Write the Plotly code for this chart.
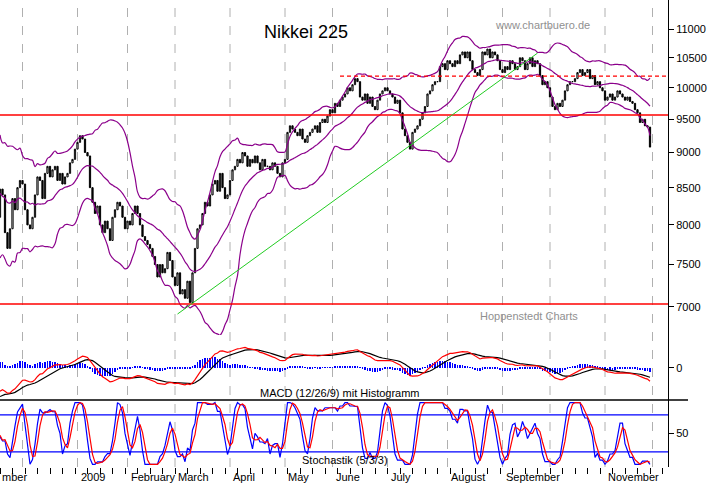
import numpy as np
import pandas as pd
import plotly.graph_objects as go

# closes before the visible window (indicator warm-up only, off-screen)
warmup_closes = [10800, 10600, 10500, 10300, 10100, 10200, 9900, 9700, 9800, 9500,
                 9300, 9600, 9000, 9200, 8400, 8900, 8100, 7800, 8600, 7600,
                 8300, 9100, 8700, 8000, 8500, 7900, 8900, 8300, 8700, 8250,
                 8600, 8100]

closes = [8480, 8400, 7900, 7700, 7950, 8350, 8200, 8500, 8600, 8550,
          8200, 8000, 7950, 8100, 8400, 8650, 8600, 8350, 8700, 8800,
          8650, 8750, 8800, 8600, 8700, 8550, 8650, 8700, 8850, 8900,
          9050, 9150, 9250, 9200, 9000, 8950, 8500, 8300, 8150, 8250,
          8000, 7900, 8050, 7950, 7800, 8100, 8200, 8300, 8250, 8100,
          7950, 8050, 8000, 8150, 8250, 8150, 8000, 7850, 7800, 7750,
          7700, 7600, 7500, 7350, 7500, 7400, 7450, 7650, 7550, 7350,
          7250, 7400, 7150, 7200, 7100, 7300, 7050, 7400, 7700, 7950,
          8000, 8150, 8300, 8250, 8400, 8550, 8600, 8450, 8700, 8500,
          8350, 8400, 8600, 8750, 8800, 8900, 8850, 9000, 8950, 8800,
          8900, 8850, 8950, 8850, 8750, 8900, 8800, 8800, 8750, 8850,
          8800, 8700, 8650, 8850, 8900, 9300, 9400, 9350, 9300, 9250,
          9350, 9200, 9150, 9250, 9300, 9350, 9400, 9300, 9450, 9500,
          9450, 9550, 9650, 9600, 9750, 9700, 9800, 9850, 9900, 10000,
          9950, 10050, 10150, 10100, 9850, 9800, 9900, 9750, 9850, 9700,
          9650, 9800, 9900, 9950, 10000, 9950, 9900, 9850, 9750, 9800,
          9600, 9350, 9250, 9150, 9050, 9300, 9350, 9400, 9500, 9600,
          9700, 9900, 9950, 10050, 10100, 10100, 10350, 10400, 10300, 10450,
          10400, 10350, 10450, 10400, 10550, 10600, 10500, 10600, 10450, 10300,
          10250, 10200, 10300, 10600, 10550, 10650, 10500, 10600, 10550, 10450,
          10300, 10250, 10350, 10300, 10450, 10400, 10300, 10350, 10500, 10450,
          10300, 10400, 10500, 10350, 10450, 10400, 10200, 10050, 10100, 10000,
          9850, 9700, 9650, 9750, 9700, 9800, 9950, 10050, 10100, 10100,
          10150, 10250, 10300, 10200, 10250, 10300, 10150, 10200, 10050, 10100,
          10000, 9950, 9800, 9850, 9900, 9800, 9850, 9950, 9900, 9850,
          9800, 9850, 9780, 9750, 9650, 9600, 9450, 9500, 9400, 9380, 9080]

month_pos = [9, 31, 51, 70, 92, 114, 133, 155, 179, 201, 220, 242, 261]
month_labels = ["", "2009", "February", "March", "April", "May",
                "June", "July", "August", "September", "", "November", ""]

support_levels = [9565, 7034]
resistance_level = 10190
trend_points = [(71, 6920), (215, 10580)]
price_ticks = [7000, 7500, 8000, 8500, 9000, 9500, 10000, 10500, 11000]

# ---- build series ----
allc = pd.Series(warmup_closes + closes, dtype=float)
n0 = len(warmup_closes)
idx = np.arange(len(allc)) - n0
opens = allc.shift(1).fillna(allc.iloc[0])
hi = np.maximum(opens, allc); lo = np.minimum(opens, allc)

mid = allc.rolling(20).mean(); sd = allc.rolling(20).std(ddof=0)
up = mid + 2 * sd; dn = mid - 2 * sd
ema12 = allc.ewm(span=12, adjust=False).mean(); ema26 = allc.ewm(span=26, adjust=False).mean()
macd = ema12 - ema26; sig = macd.ewm(span=9, adjust=False).mean(); hist = macd - sig
kraw = 100 * (allc - lo.rolling(5).min()) / (hi.rolling(5).max() - lo.rolling(5).min())
k = kraw.rolling(3).mean(); d = k.rolling(3).mean()

vis = idx >= 0
x = idx[vis]

fig = go.Figure()
fig.add_trace(go.Candlestick(x=x, open=opens[vis], high=hi[vis], low=lo[vis], close=allc[vis],
    increasing=dict(line=dict(color="black", width=1), fillcolor="white"),
    decreasing=dict(line=dict(color="black", width=1), fillcolor="black"),
    whiskerwidth=0, xaxis="x", yaxis="y", showlegend=False))
for s in (up, mid, dn):
    fig.add_trace(go.Scatter(x=x, y=s[vis], mode="lines", line=dict(color="#8b008b", width=1.2, shape="spline"),
                             xaxis="x", yaxis="y", showlegend=False))
for lvl in support_levels:
    fig.add_trace(go.Scatter(x=[-10, 275], y=[lvl, lvl], mode="lines", line=dict(color="red", width=1.5),
                             xaxis="x", yaxis="y", showlegend=False))
fig.add_trace(go.Scatter(x=[136, 275], y=[resistance_level] * 2, mode="lines",
                         line=dict(color="red", width=1.2, dash="4px,3px"), xaxis="x", yaxis="y", showlegend=False))
fig.add_trace(go.Scatter(x=[p[0] for p in trend_points], y=[p[1] for p in trend_points], mode="lines",
                         line=dict(color="#22cc22", width=1), xaxis="x", yaxis="y", showlegend=False))

fig.add_trace(go.Bar(x=x, y=hist[vis], marker=dict(color="blue", line=dict(width=0)), width=0.35,
                     xaxis="x", yaxis="y2", showlegend=False))
fig.add_trace(go.Scatter(x=x, y=sig[vis], mode="lines", line=dict(color="black", width=1.2), xaxis="x", yaxis="y2", showlegend=False))
fig.add_trace(go.Scatter(x=x, y=macd[vis], mode="lines", line=dict(color="red", width=1.2), xaxis="x", yaxis="y2", showlegend=False))

for lvl in (20, 80):
    fig.add_trace(go.Scatter(x=[-10, 275], y=[lvl, lvl], mode="lines", line=dict(color="blue", width=1.3),
                             xaxis="x", yaxis="y3", showlegend=False))
fig.add_trace(go.Scatter(x=x, y=k[vis], mode="lines", line=dict(color="blue", width=1.2), xaxis="x", yaxis="y3", showlegend=False))
fig.add_trace(go.Scatter(x=x, y=d[vis], mode="lines", line=dict(color="red", width=1.2), xaxis="x", yaxis="y3", showlegend=False))

H = 467.0
dom_main = [(467 - 335) / H, 1]
dom_macd = [(467 - 400) / H, (467 - 335) / H]
dom_st = [0, (467 - 400) / H]
xr = [0, 267.2]

shapes = []
for mp in month_pos:
    if 0 < mp < xr[1]:
        shapes.append(dict(type="line", xref="x", yref="paper", x0=mp, x1=mp, y0=0, y1=1,
                           line=dict(color="#b0b0b0", width=1, dash="dash"), layer="below"))
shapes.append(dict(type="line", xref="paper", yref="paper", x0=0, x1=1.03, y0=dom_st[1], y1=dom_st[1],
                   line=dict(color="black", width=1.5)))

F = "Liberation Sans, Arial"
ann = [dict(x=0.5 * (263 + 348) / 668, y=1 - 20 / H, xref="paper", yref="paper", text="Nikkei 225",
            showarrow=False, font=dict(family=F, size=18, color="black")),
       dict(x=592 / 668, y=1 - 17 / H, xref="paper", yref="paper", text="www.chartbuero.de",
            showarrow=False, font=dict(family=F, size=11, color="#909090")),
       dict(x=580 / 668, y=1 - 324 / H, xref="paper", yref="paper", text="Hoppenstedt Charts",
            showarrow=False, font=dict(family=F, size=11, color="#909090")),
       dict(x=340 / 668, y=1 - 394 / H, yshift=-7, xref="paper", yref="paper", text="MACD (12/26/9) mit Histogramm",
            showarrow=False, font=dict(family=F, size=11, color="black")),
       dict(x=345 / 668, y=1 - 461 / H, yshift=-7, xref="paper", yref="paper", text="Stochastik (5/3/3)",
            showarrow=False, font=dict(family=F, size=11, color="black")),
       dict(x=0, y=0, xref="paper", yref="paper", yshift=-10, text="mber", xanchor="left",
            yanchor="middle", showarrow=False, font=dict(family=F, size=11, color="black"))]
for mp, ml in zip(month_pos, month_labels):
    if ml:
        ann.append(dict(x=mp + 0.4, y=0, xref="x", yref="paper", yshift=-10, text=ml, xanchor="left",
                        yanchor="middle", showarrow=False, font=dict(family=F, size=11, color="black")))

ax_common = dict(side="right", showline=True, linecolor="black", linewidth=1, ticks="outside",
                 ticklen=5, tickcolor="black", showgrid=False, zeroline=False,
                 tickfont=dict(family=F, size=11, color="black"), fixedrange=True)
fig.update_layout(
    width=723, height=486, margin=dict(l=0, r=55, t=0, b=19),
    paper_bgcolor="white", plot_bgcolor="white", bargap=0,
    shapes=shapes, annotations=ann,
    xaxis=dict(range=xr, domain=[0, 1], anchor="y3", rangeslider=dict(visible=False),
               tickvals=list(range(-20, 270, 5)), ticks="outside", ticklen=6, tickcolor="black",
               showticklabels=False, showgrid=False, zeroline=False, showline=False),
    yaxis=dict(type="log", domain=dom_main, anchor="x", range=[np.log10(6688), np.log10(11535)],
               tickvals=price_ticks, ticktext=[str(t) for t in price_ticks], **ax_common),
    yaxis2=dict(domain=dom_macd, anchor="x", range=[-460, 470], tickvals=[0], **ax_common),
    yaxis3=dict(domain=dom_st, anchor="x", range=[-4.4, 104.2], tickvals=[50], **ax_common),
)
fig.write_html("out.html", config={"displayModeBar": False},
               post_script="document.body.style.margin='0';document.body.style.overflow='hidden';")
